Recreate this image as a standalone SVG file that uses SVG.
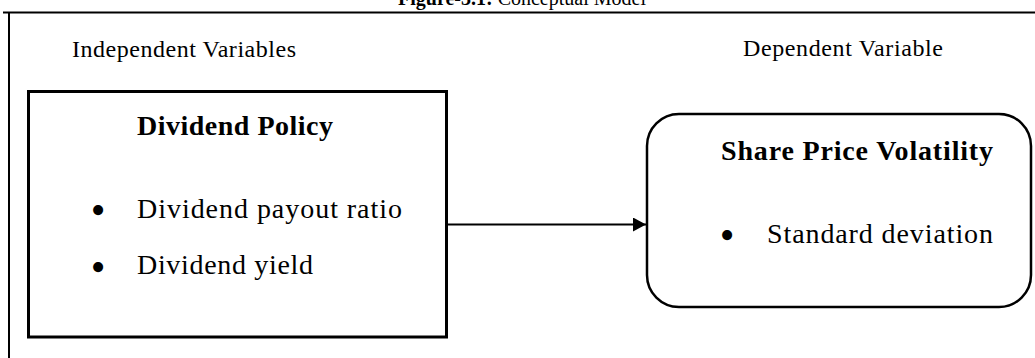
<svg xmlns="http://www.w3.org/2000/svg" width="1035" height="358" viewBox="0 0 1035 358">
<style>
.t{font-family:"Liberation Serif","Times New Roman",serif;fill:#000}
.b{font-weight:bold}
.bul{font-family:"Liberation Serif","Times New Roman",serif;fill:#000;font-size:42px;text-anchor:middle}
.box{fill:none;stroke:#000}
.ln{stroke:#000;fill:none}
</style>
<defs>
<marker id="ah" markerWidth="14" markerHeight="14" refX="13" refY="7" orient="auto" markerUnits="userSpaceOnUse">
<path d="M0,0 L13,7 L0,14 Z" fill="#000"/>
</marker>
</defs>
<rect width="1035" height="358" fill="#fff"/>
<g id="title">
<text class="t" x="522" y="5" font-size="20" text-anchor="middle"><tspan class="b">Figure-3.1:</tspan> Conceptual Model</text>
</g>
<g id="frame">
<line class="ln" x1="3" y1="12.5" x2="1035" y2="12.5" stroke-width="2"/>
<line class="ln" x1="9" y1="12" x2="9" y2="358" stroke-width="2"/>
</g>
<g id="labels">
<text class="t" x="72" y="57" font-size="24" textLength="224" lengthAdjust="spacing">Independent Variables</text>
<text class="t" x="743" y="56" font-size="24" textLength="200" lengthAdjust="spacing">Dependent Variable</text>
</g>
<g id="dividend-policy">
<rect class="box" x="28.5" y="91.5" width="418" height="245.5" stroke-width="3"/>
<text class="t b" x="137" y="135" font-size="28" textLength="196" lengthAdjust="spacing">Dividend Policy</text>
<text class="bul" x="98" y="224">•</text>
<text class="t" x="137" y="218" font-size="28" textLength="265" lengthAdjust="spacing">Dividend payout ratio</text>
<text class="bul" x="98" y="281">•</text>
<text class="t" x="137" y="274" font-size="28" textLength="176" lengthAdjust="spacing">Dividend yield</text>
</g>
<g id="share-price-volatility">
<rect class="box" x="647" y="114" width="384" height="193" rx="32" ry="32" stroke-width="2.5"/>
<text class="t b" x="721" y="160" font-size="28" textLength="272" lengthAdjust="spacing">Share Price Volatility</text>
<text class="bul" x="727" y="249">•</text>
<text class="t" x="767" y="243" font-size="28" textLength="226" lengthAdjust="spacing">Standard deviation</text>
</g>
<g id="connectors">
<line class="ln" x1="448" y1="224.5" x2="646" y2="224.5" stroke-width="2" marker-end="url(#ah)"/>
</g>
</svg>
